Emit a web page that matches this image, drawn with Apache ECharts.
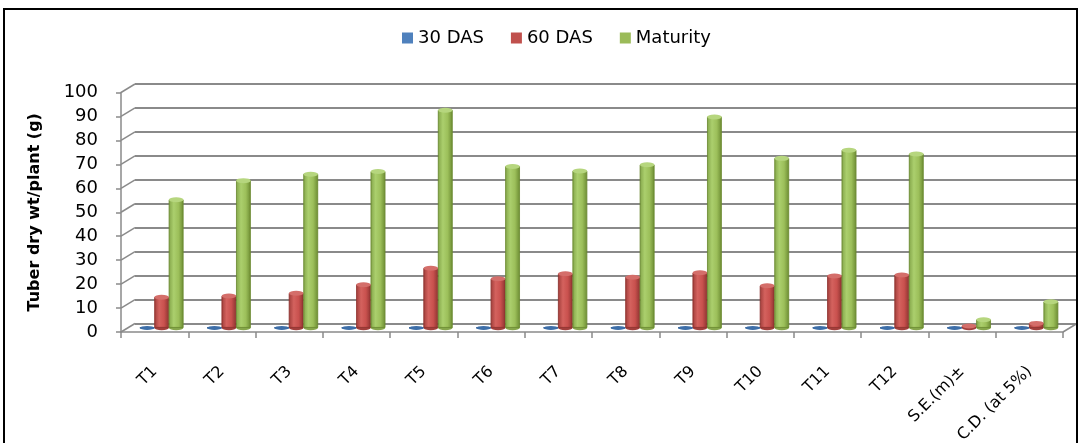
<!DOCTYPE html>
<html>
<head>
<meta charset="utf-8">
<title>Tuber dry weight per plant</title>
<script src="https://cdn.jsdelivr.net/npm/echarts@6/dist/echarts.min.js"></script>
<style>
  html, body { margin: 0; padding: 0; background: #ffffff; }
  #chart { width: 1082px; height: 443px; }
</style>
</head>
<body>
<div id="chart"></div>
<script>
// Treatments and statistics rows along the category axis
const categories = ['T1', 'T2', 'T3', 'T4', 'T5', 'T6', 'T7', 'T8', 'T9', 'T10', 'T11', 'T12', 'S.E.(m)\u00b1', 'C.D. (at 5%)'];

// Tuber dry weight per plant (g) at each stage
const das30 = [0, 0, 0, 0, 0, 0, 0, 0, 0, 0, 0, 0, 0, 0];
const das60 = [12.8, 13.3, 14.5, 18.0, 24.9, 20.5, 22.6, 21.2, 23.0, 17.6, 21.7, 22.1, 0.8, 1.9];
const maturity = [53.5, 61.5, 64.2, 65.3, 90.9, 67.4, 65.5, 68.1, 88.1, 70.8, 74.2, 72.6, 3.4, 10.9];

// Value axis ticks
const yTicks = [0, 10, 20, 30, 40, 50, 60, 70, 80, 90, 100];

const seriesNames = ['30 DAS', '60 DAS', 'Maturity'];

// Layout of the pseudo-3D box: front plane, mid depth (where the columns stand), back wall
const W = 1082, H = 443;
const FRONT = { left: 121, right: 1063, top: 92.5, bottom: 332 };
const DEPTH = { dx: 14, dy: -8.5 };
const MID = {
  left: FRONT.left + DEPTH.dx / 2, right: FRONT.right + DEPTH.dx / 2,
  top: FRONT.top + DEPTH.dy / 2, bottom: FRONT.bottom + DEPTH.dy / 2
};
const BACK = {
  left: FRONT.left + DEPTH.dx, right: FRONT.right + DEPTH.dx,
  top: FRONT.top + DEPTH.dy, bottom: FRONT.bottom + DEPTH.dy
};
function gridOf(r) {
  return {
    left: r.left, top: r.top, width: r.right - r.left, height: r.bottom - r.top,
    containLabel: false, outerBoundsMode: 'none'
  };
}

const BAR_W = 14.5;
const GRID_COLOR = '#8a8a8a';
const FONT = 'DejaVu Sans';

function hGrad(stops) {
  return new echarts.graphic.LinearGradient(0, 0, 1, 0, stops.map((c, i) => ({ offset: i / (stops.length - 1), color: c })));
}

const palette = {
  '30 DAS': { body: hGrad(['#365f91', '#5b8fcf', '#4f81bd', '#2f5486']), cap: '#3d6ea8', capStroke: '#2c5283', base: '#3a679f', border: '#2f5486' },
  '60 DAS': { body: hGrad(['#a13e3b', '#d4625e', '#c9514e', '#8e3431']), cap: '#d46e6a', capStroke: '#9c3a37', base: '#a23f3c', border: '#8e3431' },
  'Maturity': { body: hGrad(['#84a64a', '#abcf6d', '#9cbf5a', '#6c8c33']), cap: '#b6d67e', capStroke: '#789640', base: '#86a64b', border: '#6c8c33' }
};

const dataBySeries = { '30 DAS': das30, '60 DAS': das60, 'Maturity': maturity };
const offsets = { '30 DAS': -BAR_W, '60 DAS': 0, 'Maturity': BAR_W };

const series = [];
seriesNames.forEach(name => {
  const p = palette[name];
  series.push({
    name: name, type: 'bar', xAxisIndex: 1, yAxisIndex: 1,
    data: dataBySeries[name], barWidth: BAR_W, barGap: '0%',
    itemStyle: { color: p.body, borderColor: p.border, borderWidth: 0.6 },
    z: 3, animation: false
  });
});
seriesNames.forEach(name => {
  const p = palette[name];
  // rounded foot of each column
  series.push({
    name: name, type: 'pictorialBar', xAxisIndex: 1, yAxisIndex: 1,
    data: dataBySeries[name].map(v => (v > 0 ? v : '-')),
    symbol: 'circle', symbolSize: [BAR_W, 5], symbolPosition: 'start',
    symbolOffset: [offsets[name], '50%'],
    itemStyle: { color: p.base }, z: 2, animation: false
  });
  // top face of each column
  series.push({
    name: name, type: 'pictorialBar', xAxisIndex: 1, yAxisIndex: 1,
    data: dataBySeries[name],
    symbol: 'circle', symbolSize: [BAR_W, name === '30 DAS' ? 4 : 5], symbolPosition: 'end',
    symbolOffset: [offsets[name], '-50%'],
    itemStyle: { color: p.cap, borderColor: p.capStroke, borderWidth: 0.6 }, z: 5, animation: false
  });
});

const option = {
  backgroundColor: '#ffffff',
  animation: false,
  legend: {
    left: 397, top: 24,
    itemWidth: 11, itemHeight: 11, itemGap: 27,
    icon: 'rect',
    textStyle: { fontFamily: FONT, fontSize: 18, color: '#000000' },
    data: [
      { name: '30 DAS', itemStyle: { color: '#4f81bd', borderWidth: 0 } },
      { name: '60 DAS', itemStyle: { color: '#c0504d', borderWidth: 0 } },
      { name: 'Maturity', itemStyle: { color: '#9bbb59', borderWidth: 0 } }
    ]
  },
  grid: [gridOf(BACK), gridOf(MID), gridOf(FRONT)],
  xAxis: [
    { type: 'category', gridIndex: 0, data: categories, show: true,
      axisLine: { show: false }, axisTick: { show: false }, axisLabel: { show: false }, splitLine: { show: false } },
    { type: 'category', gridIndex: 1, data: categories, show: false },
    { type: 'category', gridIndex: 2, data: categories,
      axisLine: { show: true, lineStyle: { color: GRID_COLOR, width: 1.5 } },
      axisTick: { show: true, length: 6, lineStyle: { color: GRID_COLOR, width: 1.5 } },
      axisLabel: { rotate: 45, margin: 37, interval: 0, fontFamily: FONT, fontSize: 16, color: '#000000' } }
  ],
  yAxis: [
    { type: 'value', gridIndex: 0, min: 0, max: 100, interval: 10,
      axisLine: { show: false }, axisTick: { show: false }, axisLabel: { show: false },
      splitLine: { show: true, lineStyle: { color: GRID_COLOR, width: 2 } } },
    { type: 'value', gridIndex: 1, min: 0, max: 100, interval: 10, show: false, splitLine: { show: false } },
    { type: 'value', gridIndex: 2, min: 0, max: 100, interval: 10,
      name: 'Tuber dry wt/plant (g)', nameLocation: 'middle', nameGap: 78, nameRotate: 90,
      nameTextStyle: { fontFamily: FONT, fontSize: 16, fontWeight: 'bold', color: '#000000' },
      axisLine: { show: true, lineStyle: { color: GRID_COLOR, width: 1.5 } },
      axisTick: { show: true, length: 5, lineStyle: { color: GRID_COLOR, width: 1.5 } },
      axisLabel: { margin: 23, fontFamily: FONT, fontSize: 18, color: '#000000' },
      splitLine: { show: false } }
  ],
  series: series
};

const chart = echarts.init(document.getElementById('chart'), null, { renderer: 'canvas', width: W, height: H });
chart.setOption(option);

// Depth connectors: from each front tick back to its gridline on the back wall, plus the floor's right edge
const edges = [];
yTicks.forEach(v => {
  const yf = chart.convertToPixel({ yAxisIndex: 2 }, v);
  const yb = chart.convertToPixel({ yAxisIndex: 0 }, v);
  edges.push({ type: 'line', shape: { x1: FRONT.left, y1: yf, x2: BACK.left, y2: yb },
    style: { stroke: GRID_COLOR, lineWidth: 1.5 }, silent: true, z: 1 });
});
const yf0 = chart.convertToPixel({ yAxisIndex: 2 }, 0);
const yb0 = chart.convertToPixel({ yAxisIndex: 0 }, 0);
edges.push({ type: 'line', shape: { x1: FRONT.right, y1: yf0, x2: BACK.right, y2: yb0 },
  style: { stroke: GRID_COLOR, lineWidth: 1.5 }, silent: true, z: 1 });
// chart frame
edges.push({ type: 'rect', shape: { x: 4, y: 9, width: 1073, height: 450 },
  style: { fill: null, stroke: '#000000', lineWidth: 2 }, silent: true, z: 10 });

chart.setOption({ graphic: { elements: edges } });
</script>
</body>
</html>
